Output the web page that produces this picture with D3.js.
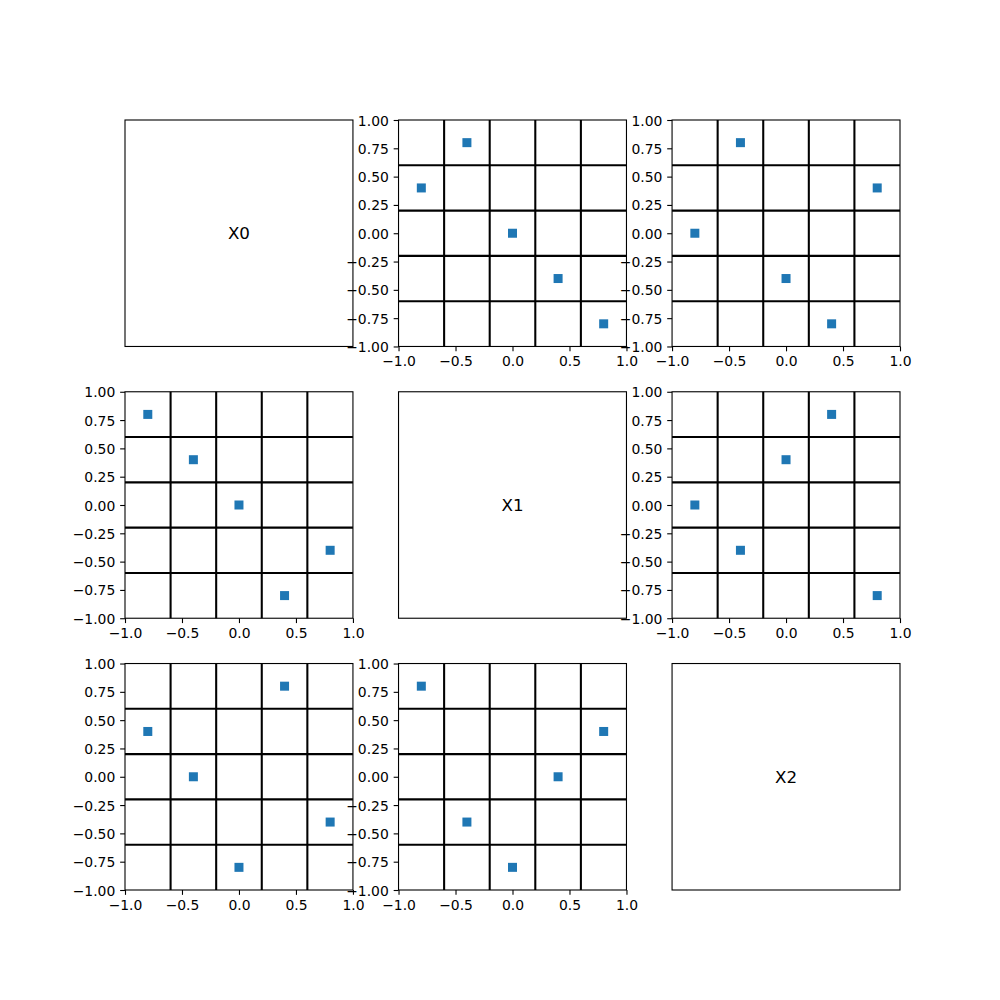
<!DOCTYPE html>
<html>
<head>
<meta charset="utf-8">
<script src="https://cdn.jsdelivr.net/npm/d3@7"></script>
<style>
  html, body { margin: 0; padding: 0; background: #fff; }
  svg { display: block; }
</style>
</head>
<body>
<div id="chart"></div>
<script>
// ---- data ----
const diagLabels = ["X0", "X1", "X2"];
const xTicks = [-1, -0.5, 0, 0.5, 1];
const yTicks = [-1, -0.75, -0.5, -0.25, 0, 0.25, 0.5, 0.75, 1];
const gridLines = [-0.6, -0.2, 0.2, 0.6];
const points_0_1 = [[-0.8, 0.4], [-0.4, 0.8], [0, 0], [0.4, -0.4], [0.8, -0.8]];
const points_0_2 = [[-0.8, 0], [-0.4, 0.8], [0, -0.4], [0.4, -0.8], [0.8, 0.4]];
const points_1_0 = [[-0.8, 0.8], [-0.4, 0.4], [0, 0], [0.4, -0.8], [0.8, -0.4]];
const points_1_2 = [[-0.8, 0], [-0.4, -0.4], [0, 0.4], [0.4, 0.8], [0.8, -0.8]];
const points_2_0 = [[-0.8, 0.4], [-0.4, 0], [0, -0.8], [0.4, 0.8], [0.8, -0.4]];
const points_2_1 = [[-0.8, 0.8], [-0.4, -0.4], [0, -0.8], [0.4, 0], [0.8, 0.4]];
const panelPoints = {
  "0_1": points_0_1, "0_2": points_0_2,
  "1_0": points_1_0, "1_2": points_1_2,
  "2_0": points_2_0, "2_1": points_2_1
};

(function () {
// ---- layout (matplotlib defaults for 10x10in @100dpi) ----
const W = 1000, H = 1000;
const mLeft = 0.125 * W, mRight = 0.9 * W, mTop = (1 - 0.88) * H, mBottom = (1 - 0.11) * H;
const n = 3, wspace = 0.2, hspace = 0.2;
const cw = (mRight - mLeft) / (n + (n - 1) * wspace);
const ch = (mBottom - mTop) / (n + (n - 1) * hspace);
const gx = cw * wspace, gy = ch * hspace;

const fontFamily = "DejaVu Sans, sans-serif";
const tickFont = 13.9;
const tickLen = 4.86, tickPad = 4.86;
const markerColor = "#1f77b4";
const markerSize = 9;

const svg = d3.select("#chart").append("svg")
  .attr("width", W).attr("height", H)
  .attr("viewBox", `0 0 ${W} ${H}`);

svg.append("rect").attr("width", W).attr("height", H).attr("fill", "#fff");

const fmtY = d3.format(".2f");
const fmtX = d3.format(".1f");

for (let r = 0; r < n; r++) {
  for (let c = 0; c < n; c++) {
    const x0 = mLeft + c * (cw + gx);
    const y0 = mTop + r * (ch + gy);
    const g = svg.append("g").attr("transform", `translate(${x0},${y0})`);

    if (r === c) {
      g.append("rect").attr("width", cw).attr("height", ch)
        .attr("fill", "none").attr("stroke", "#000").attr("stroke-width", 1.1);
      g.append("text")
        .attr("x", cw / 2).attr("y", ch / 2)
        .attr("text-anchor", "middle")
        .attr("dominant-baseline", "central")
        .attr("font-family", fontFamily)
        .attr("font-size", 16.7)
        .attr("fill", "#000")
        .text(diagLabels[r]);
      continue;
    }

    const xs = d3.scaleLinear().domain([-1, 1]).range([0, cw]);
    const ys = d3.scaleLinear().domain([-1, 1]).range([ch, 0]);

    // grid lines
    g.selectAll("line.vg").data(gridLines).join("line").attr("class", "vg")
      .attr("x1", d => xs(d)).attr("x2", d => xs(d))
      .attr("y1", 0).attr("y2", ch)
      .attr("stroke", "#000").attr("stroke-width", 2.08);
    g.selectAll("line.hg").data(gridLines).join("line").attr("class", "hg")
      .attr("y1", d => ys(d)).attr("y2", d => ys(d))
      .attr("x1", 0).attr("x2", cw)
      .attr("stroke", "#000").attr("stroke-width", 2.08);

    // points
    const pts = panelPoints[`${r}_${c}`];
    g.selectAll("rect.pt").data(pts).join("rect").attr("class", "pt")
      .attr("x", d => xs(d[0]) - markerSize / 2)
      .attr("y", d => ys(d[1]) - markerSize / 2)
      .attr("width", markerSize).attr("height", markerSize)
      .attr("fill", markerColor);

    // spines
    g.append("rect").attr("width", cw).attr("height", ch)
      .attr("fill", "none").attr("stroke", "#000").attr("stroke-width", 1.1);

    // axes
    const xAxis = d3.axisBottom(xs).tickValues(xTicks).tickFormat(fmtX)
      .tickSize(tickLen).tickPadding(tickPad);
    const yAxis = d3.axisLeft(ys).tickValues(yTicks).tickFormat(fmtY)
      .tickSize(tickLen).tickPadding(tickPad);

    const ax = g.append("g").attr("transform", `translate(0,${ch})`).call(xAxis);
    const ay = g.append("g").call(yAxis);
    [ax, ay].forEach(a => {
      a.select(".domain").remove();
      a.selectAll(".tick line").attr("stroke", "#000").attr("stroke-width", 1.1);
      a.selectAll(".tick text")
        .attr("fill", "#000")
        .attr("font-family", fontFamily)
        .attr("font-size", tickFont);
    });
    ax.selectAll(".tick text").attr("dy", "0.74em");
    ay.selectAll(".tick text").attr("dy", "0.36em");
  }
}
})();
</script>
</body>
</html>
